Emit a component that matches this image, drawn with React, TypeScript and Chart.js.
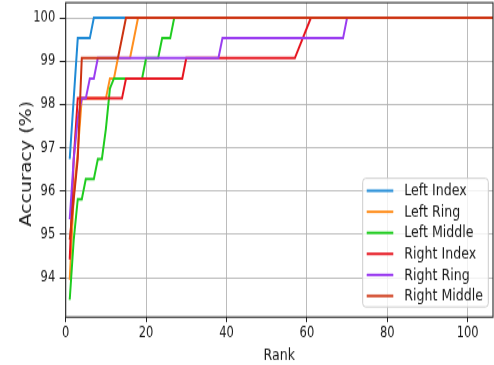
import React, { useEffect, useRef } from 'react';
import { Chart, registerables } from 'chart.js';

Chart.register(...registerables);

// Cumulative match characteristic per finger: [rank, accuracy %]
const leftIndex = [[1, 96.74], [2, 98.14], [3, 99.53], [6, 99.53], [7, 100], [107, 100]];
const leftRing = [[1, 93.95], [2, 95.9], [3, 96.9], [4, 98.14], [10, 98.14], [11, 98.6], [12, 98.6], [13, 99.07], [16, 99.07], [17, 99.53], [18, 100], [107, 100]];
const leftMiddle = [[1, 93.49], [2, 94.88], [3, 95.81], [4, 95.81], [5, 96.28], [7, 96.28], [8, 96.74], [9, 96.74], [10, 97.44], [11, 98.37], [12, 98.6], [19, 98.6], [20, 99.07], [23, 99.07], [24, 99.53], [26, 99.53], [27, 100], [107, 100]];
const rightIndex = [[1, 94.42], [2, 96.74], [3, 98.14], [14, 98.14], [15, 98.6], [29, 98.6], [30, 99.07], [57, 99.07], [61, 100], [107, 100]];
const rightRing = [[1, 95.35], [2, 96.74], [3, 97.67], [4, 98.14], [5, 98.14], [6, 98.6], [7, 98.6], [8, 99.07], [38, 99.07], [39, 99.53], [69, 99.53], [70, 100], [107, 100]];
const rightMiddle = [[1, 94.88], [2, 95.81], [3, 96.74], [4, 99.07], [13, 99.07], [14, 99.53], [15, 100], [107, 100]];

const seriesNames = ['Left Index', 'Left Ring', 'Left Middle', 'Right Index', 'Right Ring', 'Right Middle'];
const seriesData = [leftIndex, leftRing, leftMiddle, rightIndex, rightRing, rightMiddle];
const seriesColors = ['#1f8ad6', '#ff8f1f', '#1fcc1f', '#e6141e', '#9a3cf0', '#cc3311'];

const xTitle = 'Rank';
const yTitle = 'Accuracy (%)';

const FONT = '"DejaVu Sans", "Noto Sans", sans-serif';
const INK = '#1a1a1a';

// Frame, axis titles and the in-plot legend
const overlay = {
  id: 'overlay',
  afterDraw(chart: any) {
    const { ctx, chartArea: a } = chart;
    ctx.save();

    ctx.strokeStyle = '#262626';
    ctx.lineWidth = 1.1;
    ctx.strokeRect(a.left, a.top, a.right - a.left, a.bottom - a.top);

    ctx.fillStyle = INK;
    ctx.font = `12.6px ${FONT}`;
    ctx.textAlign = 'center';
    ctx.textBaseline = 'alphabetic';
    ctx.fillText(xTitle, (a.left + a.right) / 2, 283.5);

    ctx.save();
    ctx.translate(27.5, (a.top + a.bottom) / 2 + 3);
    ctx.rotate(-Math.PI / 2);
    ctx.font = `15px ${FONT}`;
    ctx.textBaseline = 'middle';
    ctx.fillText(yTitle, 0, 0);
    ctx.restore();

    const left = 362.7;
    const right = a.right - 4.7;
    const top = 140.7;
    const bottom = a.bottom - 8;
    ctx.beginPath();
    ctx.roundRect(left, top, right - left, bottom - top, 3);
    ctx.fillStyle = 'rgba(255,255,255,0.8)';
    ctx.fill();
    ctx.strokeStyle = '#cccccc';
    ctx.lineWidth = 1;
    ctx.stroke();

    ctx.font = `12.6px ${FONT}`;
    ctx.textAlign = 'left';
    ctx.textBaseline = 'middle';
    seriesNames.forEach((name, i) => {
      const y = top + 9.8 + i * 16.6;
      ctx.strokeStyle = seriesColors[i];
      ctx.lineWidth = 2;
      ctx.beginPath();
      ctx.moveTo(left + 4, y);
      ctx.lineTo(left + 30.6, y);
      ctx.stroke();
      ctx.fillStyle = INK;
      ctx.fillText(name, left + 41.6, y + 0.5);
    });

    ctx.restore();
  },
};

export default function App() {
  const ref = useRef<HTMLCanvasElement>(null);

  useEffect(() => {
    const canvas = ref.current;
    if (!canvas) return;
    const chart = new Chart(canvas, {
      type: 'line',
      data: {
        datasets: seriesData.map((pts, i) => ({
          label: seriesNames[i],
          data: pts.map(([x, y]) => ({ x, y })),
          borderColor: seriesColors[i],
          backgroundColor: seriesColors[i],
          borderWidth: 2,
          pointRadius: 0,
          tension: 0,
          fill: false,
          order: seriesData.length - i,
        })),
      },
      options: {
        responsive: false,
        animation: false,
        devicePixelRatio: 1,
        layout: { padding: { top: 2.1, right: 1, left: 0, bottom: 0 } },
        plugins: { legend: { display: false }, tooltip: { enabled: false } },
        scales: {
          x: {
            type: 'linear',
            min: 0,
            max: 106.3,
            afterFit: (s: any) => {
              s.height = 37.8;
              s.paddingLeft = 0;
              s.paddingRight = 0;
            },
            ticks: {
              stepSize: 20,
              includeBounds: false,
              maxRotation: 0,
              padding: 2,
              color: INK,
              font: { family: FONT, size: 11.5 },
            },
            grid: { color: 'rgba(176,176,176,0.85)', lineWidth: 1, tickLength: 4, tickColor: '#222' },
            border: { display: false },
          },
          y: {
            type: 'linear',
            min: 93.09,
            max: 100.35,
            afterFit: (s: any) => {
              s.width = 65.7;
              s.paddingTop = 0;
              s.paddingBottom = 0;
            },
            ticks: {
              stepSize: 1,
              includeBounds: false,
              padding: 4.5,
              color: INK,
              font: { family: FONT, size: 11.5 },
            },
            grid: { color: 'rgba(176,176,176,0.85)', lineWidth: 1, tickLength: 6, tickColor: '#222' },
            border: { display: false },
          },
        },
      },
      plugins: [overlay],
    } as any);
    return () => chart.destroy();
  }, []);

  return (
    <div style={{ position: 'absolute', left: 0, top: 0, width: 494, height: 365, background: '#fff' }}>
      <canvas ref={ref} width={494} height={288} style={{ width: '494px', height: '365px', display: 'block' }} />
    </div>
  );
}
